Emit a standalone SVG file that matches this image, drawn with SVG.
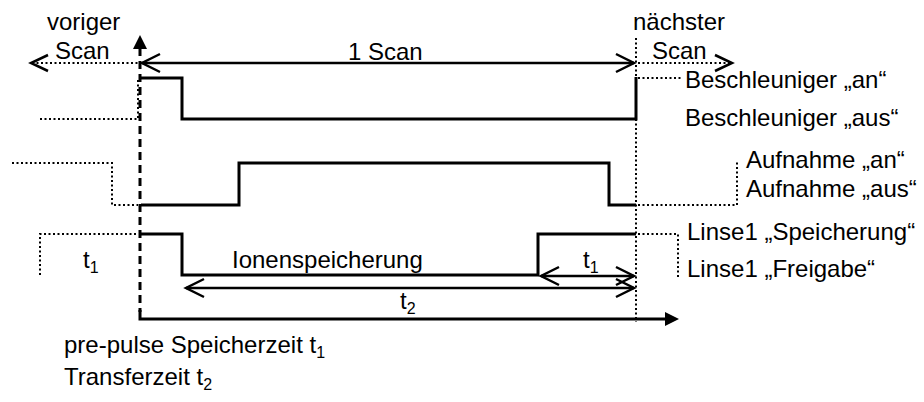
<svg xmlns="http://www.w3.org/2000/svg" width="924" height="402" viewBox="0 0 924 402">
  <style>
    text { font-family: "Liberation Sans", Arial, sans-serif; font-size: 24px; fill: #000; }
    .sub { font-size: 16px; }
    .sig { fill: none; stroke: #000; stroke-width: 3; stroke-linejoin: miter; }
    .dot { fill: none; stroke: #000; stroke-width: 2; stroke-dasharray: 2 2.5; }
    .dash { fill: none; stroke: #000; stroke-width: 3; stroke-dasharray: 8 5; }
    .dim { fill: none; stroke: #000; stroke-width: 2.5; }
    .head { fill: none; stroke: #000; stroke-width: 2.5; }
    .tri { fill: #000; stroke: none; }
  </style>

  <rect width="924" height="402" fill="#fff"/>

  <!-- time axis: dashed vertical with arrow, solid horizontal with arrow -->
  <g id="axis">
    <line class="dash" x1="140" y1="48" x2="140" y2="312"/>
    <polyline class="sig" points="140,310 140,319 667,319"/>
    <polygon class="tri" points="140,35 133,49 147,49"/>
    <polygon class="tri" points="679,319 665,312 665,326"/>
  </g>

  <!-- scan boundary at the right -->
  <g id="scan-boundary">
    <line class="dot" x1="636" y1="38" x2="636" y2="322"/>
  </g>

  <!-- scan span arrows -->
  <g id="connectors">
    <line class="dim" x1="142" y1="63" x2="634" y2="63"/>
    <polyline class="head" points="160,54 142,63 160,72"/>
    <polyline class="head" points="616,54 634,63 616,72"/>

    <line class="dot" x1="32" y1="63" x2="138" y2="63"/>
    <polyline class="head" points="48,55 31,63 48,71"/>

    <line class="dot" x1="638" y1="63" x2="731" y2="63"/>
    <polyline class="head" points="715,55 732,63 715,71"/>

    <!-- t1 and t2 spans -->
    <line class="dim" x1="541" y1="276" x2="634" y2="276"/>
    <polyline class="head" points="559,267 541,276 559,285"/>
    <polyline class="head" points="616,267 634,276 616,285"/>

    <line class="dim" x1="186" y1="288" x2="634" y2="288"/>
    <polyline class="head" points="204,279 186,288 204,297"/>
    <polyline class="head" points="616,279 634,288 616,297"/>
  </g>

  <!-- accelerator signal -->
  <g id="beschleuniger">
    <polyline class="dot" points="40,119 138,119 138,78"/>
    <polyline class="sig" points="141,78 182,78 182,119 636,119 636,77"/>
    <line class="dot" x1="638" y1="78" x2="681" y2="78"/>
    <text x="685" y="88">Beschleuniger „an“</text>
    <text x="685" y="126">Beschleuniger „aus“</text>
  </g>

  <!-- acquisition signal -->
  <g id="aufnahme">
    <polyline class="dot" points="12,163 112,163 112,205 138,205"/>
    <polyline class="sig" points="141,205 239,205 239,163 609,163 609,205 636,205"/>
    <polyline class="dot" points="638,205 737,205 737,162"/>
    <text x="746" y="168">Aufnahme „an“</text>
    <text x="746" y="197">Aufnahme „aus“</text>
  </g>

  <!-- lens 1 signal -->
  <g id="linse1">
    <polyline class="dot" points="40,275 40,234 138,234"/>
    <polyline class="sig" points="141,234 182,234 182,275 538,275 538,234 636,234"/>
    <polyline class="dot" points="638,234 678,234 678,278"/>
    <text x="687" y="240">Linse1 „Speicherung“</text>
    <text x="687" y="277">Linse1 „Freigabe“</text>
  </g>

  <!-- period labels -->
  <g id="labels">
    <text x="47" y="30">voriger</text>
    <text x="55" y="59">Scan</text>
    <text x="348" y="60">1 Scan</text>
    <text x="633" y="30">nächster</text>
    <text x="652" y="59">Scan</text>
    <text x="83" y="268">t<tspan class="sub" dy="5">1</tspan></text>
    <text x="232" y="268">Ionenspeicherung</text>
    <text x="583" y="268">t<tspan class="sub" dy="5">1</tspan></text>
    <text x="400" y="309">t<tspan class="sub" dy="5">2</tspan></text>
  </g>

  <!-- legend -->
  <g id="legend">
    <text x="64" y="353">pre-pulse Speicherzeit t<tspan class="sub" dy="5">1</tspan></text>
    <text x="64" y="385">Transferzeit t<tspan class="sub" dy="5">2</tspan></text>
  </g>
</svg>
